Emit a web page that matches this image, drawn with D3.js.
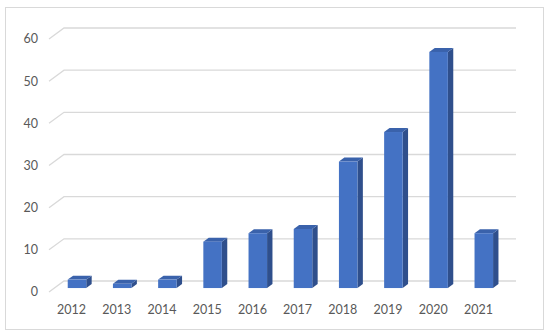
<!DOCTYPE html>
<html lang="en">
<head>
  <meta charset="UTF-8" />
  <script src="https://d3js.org/d3.v7.min.js"></script>
  <style>
    body { margin: 0; background: #fff; }
    text { font-family: Lato, "Open Sans", sans-serif; font-size: 12.5px; fill: #595959; }
  </style>
</head>
<body>
  <div id="chart"></div>

  <script>
    const years = ["2012", "2013", "2014", "2015", "2016", "2017", "2018", "2019", "2020", "2021"];
    const counts = [2, 1, 2, 11, 13, 14, 30, 37, 56, 13];
    const yTicks = [0, 10, 20, 30, 40, 50, 60];

    const width = 550, height = 335;
    const depth = { dx: 15, dy: -11 };      // full floor depth (front -> back wall)
    const barFront = 0.36, barBack = 0.72;  // bar position inside the depth

    const svg = d3.select("#chart").append("svg")
      .attr("width", width).attr("height", height);

    // chart border
    svg.append("rect")
      .attr("x", 5.5).attr("y", 7.5).attr("width", 538).attr("height", 322)
      .attr("fill", "#fff").attr("stroke", "#d9d9d9");

    const x = d3.scaleBand().domain(years).range([49, 501]).paddingInner(0.59).paddingOuter(0.295);
    const xLab = d3.scaleBand().domain(years).range([49, 501]);
    const y = d3.scaleLinear().domain([0, 60]).range([292, 39]);

    // gridlines: diagonal on the side wall, then flat on the back wall
    svg.append("g").selectAll("path")
      .data(yTicks).enter().append("path")
      .attr("d", d => `M49,${y(d)}L${49 + depth.dx},${y(d) + depth.dy}H${501 + depth.dx}`)
      .attr("fill", "none").attr("stroke", "#d9d9d9").attr("stroke-width", 1.3);

    // y tick labels
    svg.append("g").selectAll("text")
      .data(yTicks).enter().append("text")
      .attr("x", 38).attr("y", d => y(d)).attr("dy", "0.35em")
      .attr("text-anchor", "end")
      .text(d => d);

    // x labels
    svg.append("g").selectAll("text")
      .data(years).enter().append("text")
      .attr("x", d => xLab(d) + xLab.bandwidth() / 2).attr("y", 314)
      .attr("text-anchor", "middle")
      .text(d => d);

    // 3D bars
    const fx = barFront * depth.dx, fy = barFront * depth.dy;
    const bx = (barBack - barFront) * depth.dx, by = (barBack - barFront) * depth.dy;
    const bars = svg.append("g").selectAll("g")
      .data(years.map((yr, i) => ({ yr, v: counts[i] }))).enter().append("g");

    bars.append("path") // side
      .attr("d", d => {
        const x1 = x(d.yr) + x.bandwidth() + fx, y0 = y(0) + fy, y1 = y(d.v) + fy;
        return `M${x1},${y0}L${x1 + bx},${y0 + by}L${x1 + bx},${y1 + by}L${x1},${y1}Z`;
      })
      .attr("fill", "#2f4f8c");

    bars.append("path") // top
      .attr("d", d => {
        const x0 = x(d.yr) + fx, x1 = x0 + x.bandwidth(), y1 = y(d.v) + fy;
        return `M${x0},${y1}L${x0 + bx},${y1 + by}L${x1 + bx},${y1 + by}L${x1},${y1}Z`;
      })
      .attr("fill", "#3a62ab");

    bars.append("rect") // front
      .attr("x", d => x(d.yr) + fx)
      .attr("y", d => y(d.v) + fy)
      .attr("width", x.bandwidth())
      .attr("height", d => y(0) - y(d.v))
      .attr("fill", "#4472c4");
  </script>
</body>
</html>
